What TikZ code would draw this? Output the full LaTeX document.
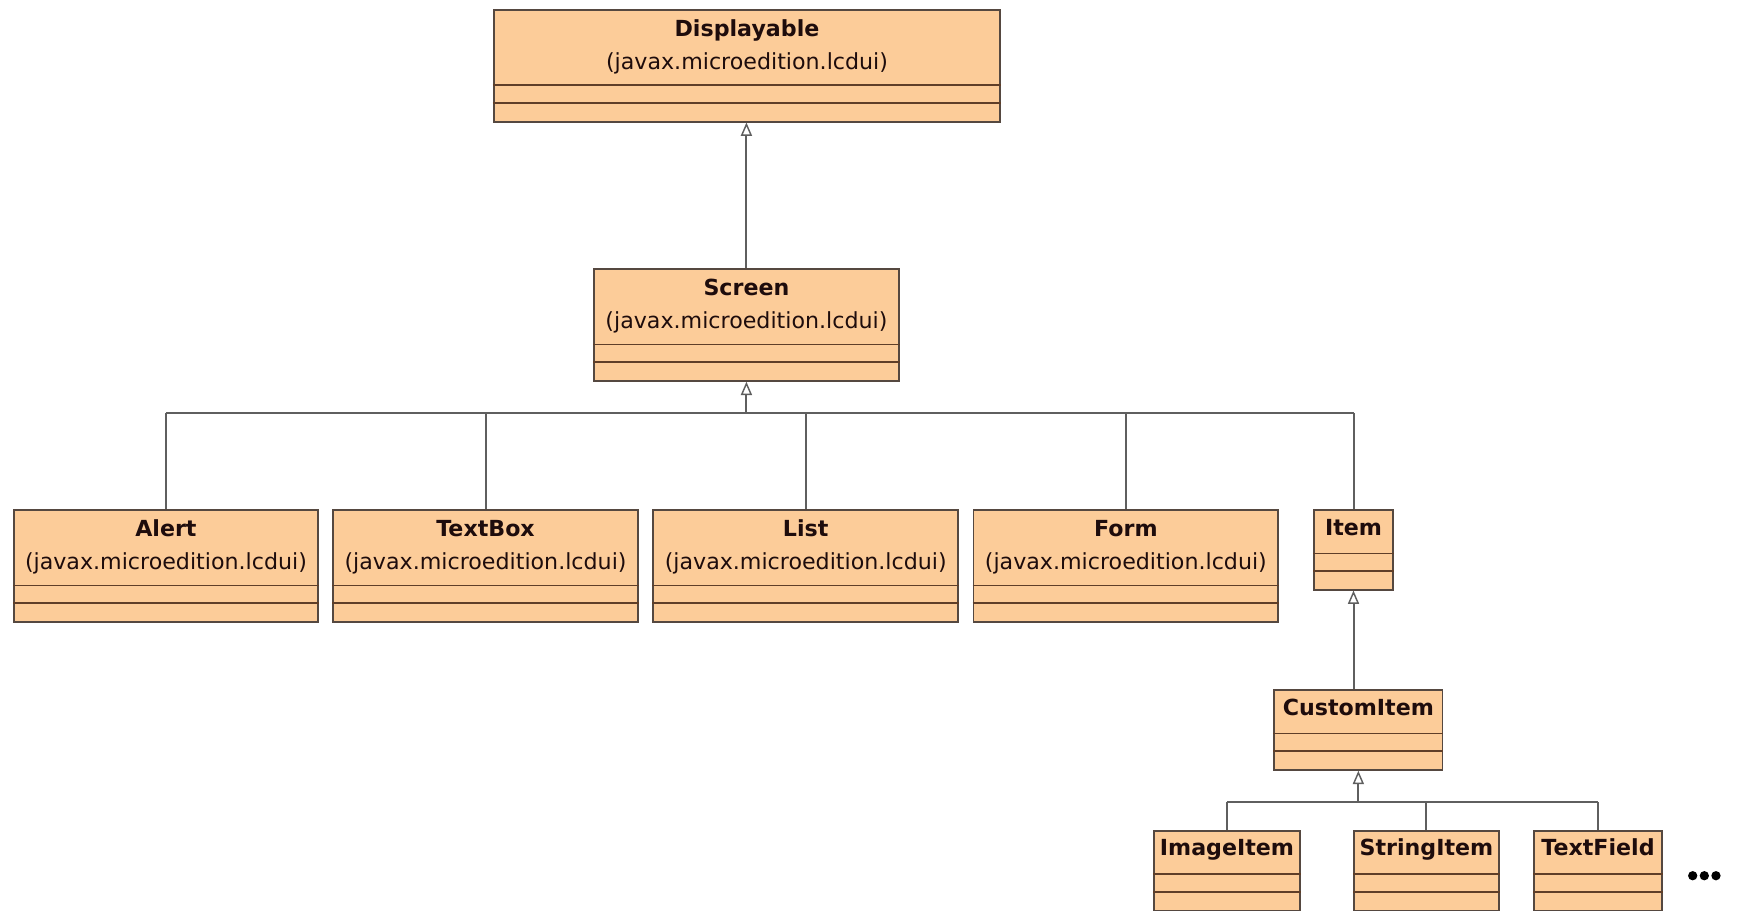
\documentclass[tikz,border=0pt]{standalone}
\usepackage{fontspec}
\setmainfont{DejaVu Sans}
\usetikzlibrary{arrows.meta,calc}
\definecolor{peach}{RGB}{252,204,153}
\definecolor{boxline}{RGB}{85,72,64}
\definecolor{compline}{RGB}{95,62,40}
\definecolor{connc}{RGB}{95,95,95}
\definecolor{txt}{RGB}{30,12,12}
\newcommand{\clstwo}[5]{%
  \node[clsbox, minimum width=#4pt, minimum height=101pt] (#1) at (#2,#3) {};
  \node[ttl] (#1-t) at ($(#1.north)+(0,24.5)$) {#5};
  \node[sub] (#1-s) at ($(#1.north)+(0,54.5)$) {(javax.microedition.lcdui)};
  \draw[comp] ($(#1.north west)+(0,69)$) -- ($(#1.north east)+(0,69)$);
  \draw[comp] ($(#1.north west)+(0,85)$) -- ($(#1.north east)+(0,85)$);
}
\newcommand{\clsone}[5]{%
  \node[clsbox, minimum width=#4pt, minimum height=72pt] (#1) at (#2,#3) {};
  \node[ttl] (#1-t) at ($(#1.north)+(0,23.5)$) {#5};
  \draw[comp] ($(#1.north west)+(0,40)$) -- ($(#1.north east)+(0,40)$);
  \draw[comp] ($(#1.north west)+(0,56)$) -- ($(#1.north east)+(0,56)$);
}
\begin{document}
\begin{tikzpicture}[x=1pt,y=-1pt,
  clsbox/.style={draw=boxline, fill=peach, line width=1.6pt, rectangle, inner sep=0pt, anchor=north west},
  ttl/.style={font=\fontsize{20}{24}\selectfont\bfseries, anchor=base, inner sep=0pt, text=txt},
  sub/.style={font=\fontsize{20}{24}\selectfont, anchor=base, inner sep=0pt, text=txt},
  comp/.style={draw=compline, line width=1.5pt},
  link/.style={draw=connc, line width=1.8pt},
  inh/.style={link, -{Triangle[fill=white, length=12pt, width=10pt, line width=1.3pt]}}
]
\useasboundingbox (0,0) rectangle (1568,822.4);
\fill[white] (0,0) rectangle (1568,822.4);
\coordinate (busa) at (0,373);
\coordinate (busb) at (0,723.7);

\clstwo{disp}{445}{8}{457}{Displayable}
\clstwo{screen}{535.5}{242}{275}{Screen}
\clstwo{alert}{12}{459.5}{274}{Alert}
\clstwo{textbox}{300}{459.5}{275}{TextBox}
\clstwo{list}{589}{459.5}{275}{List}
\clstwo{form}{878}{459.5}{275}{Form}
\clsone{item}{1185.5}{459.5}{71}{Item}
\clsone{custom}{1149.4}{622.2}{152}{CustomItem}
\clsone{image}{1041}{749.2}{131.6}{ImageItem}
\clsone{string}{1221.7}{749.2}{130.3}{StringItem}
\clsone{tfield}{1384}{749.2}{115.4}{TextField}

% Displayable <- Screen
\draw[inh] (screen.north) -- (screen.north |- disp.south);
% Screen <- children
\draw[link] (alert.north |- busa) -- (item.north |- busa);
\draw[link] (alert.north) -- (alert.north |- busa);
\draw[link] (textbox.north) -- (textbox.north |- busa);
\draw[link] (list.north) -- (list.north |- busa);
\draw[link] (form.north) -- (form.north |- busa);
\draw[link] (item.north) -- (item.north |- busa);
\draw[inh] (screen.south |- busa) -- (screen.south);
% Item <- CustomItem
\draw[inh] (item.south |- custom.north) -- (item.south);
% CustomItem <- children
\draw[link] (image.north |- busb) -- (tfield.north |- busb);
\draw[link] (image.north) -- (image.north |- busb);
\draw[link] (string.north) -- (string.north |- busb);
\draw[link] (tfield.north) -- (tfield.north |- busb);
\draw[inh] (custom.south |- busb) -- (custom.south);

% ellipsis
\fill[black] (1528,790.5) circle (4.2pt);
\fill[black] (1538.5,790.5) circle (4.2pt);
\fill[black] (1549,790.5) circle (4.2pt);
\end{tikzpicture}
\end{document}
